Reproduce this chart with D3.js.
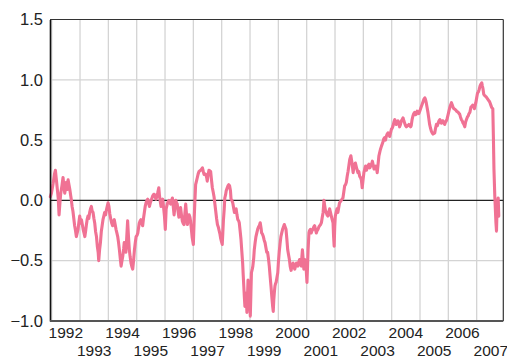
<!DOCTYPE html>
<html>
<head>
<meta charset="utf-8">
<script src="https://cdn.jsdelivr.net/npm/d3@7"></script>
<style>
  html, body { margin: 0; padding: 0; background: #fff; }
  svg { display: block; }
  .ylab { font-family: "Liberation Sans", Arial, sans-serif; font-size: 16.5px; fill: #222; }
  .xlab { font-family: "Liberation Sans", Arial, sans-serif; font-size: 15.5px; fill: #222; }
</style>
</head>
<body>
<svg id="chart" width="507" height="358"></svg>
<script>
// Axis settings
const yTicks = [-1.0, -0.5, 0.0, 0.5, 1.0, 1.5];
const yearTicks = d3.range(1992, 2008);
const xDomain = [1991.94, 2007.94];
const yDomain = [-1.0, 1.5];

// Series: [decimal year, value]
const series = [
  [1991.95,0.03],[1991.99,0.06],[1992.05,0.14],[1992.10,0.22],[1992.13,0.25],[1992.17,0.16],[1992.20,0.09],[1992.23,0.02],[1992.26,-0.12],[1992.29,-0.02],[1992.32,0.06],[1992.36,0.12],[1992.40,0.19],[1992.43,0.12],[1992.46,0.06],[1992.49,0.10],[1992.52,0.15],[1992.55,0.09],[1992.58,0.17],[1992.61,0.13],[1992.64,0.09],[1992.67,0.04],[1992.69,0.01],[1992.72,-0.05],[1992.75,-0.09],[1992.78,-0.15],[1992.81,-0.21],[1992.84,-0.25],[1992.87,-0.30],[1992.90,-0.27],[1992.93,-0.24],[1992.96,-0.18],[1992.99,-0.13],
  [1993.02,-0.19],[1993.05,-0.16],[1993.08,-0.20],[1993.11,-0.24],[1993.14,-0.27],[1993.17,-0.30],[1993.20,-0.25],[1993.22,-0.21],[1993.25,-0.16],[1993.28,-0.13],[1993.31,-0.15],[1993.34,-0.10],[1993.37,-0.07],[1993.40,-0.05],[1993.43,-0.09],[1993.46,-0.10],[1993.49,-0.15],[1993.52,-0.19],[1993.55,-0.26],[1993.58,-0.30],[1993.61,-0.38],[1993.64,-0.43],[1993.66,-0.50],[1993.69,-0.41],[1993.72,-0.35],[1993.75,-0.26],[1993.78,-0.21],[1993.81,-0.16],[1993.84,-0.13],[1993.87,-0.10],[1993.90,-0.12],[1993.93,-0.08],[1993.96,-0.05],[1993.99,-0.02],
  [1994.02,-0.05],[1994.05,-0.11],[1994.09,-0.16],[1994.12,-0.19],[1994.15,-0.21],[1994.18,-0.18],[1994.21,-0.16],[1994.24,-0.20],[1994.27,-0.24],[1994.30,-0.27],[1994.33,-0.30],[1994.36,-0.35],[1994.39,-0.41],[1994.42,-0.48],[1994.45,-0.545],[1994.48,-0.50],[1994.51,-0.46],[1994.54,-0.40],[1994.56,-0.35],[1994.59,-0.39],[1994.62,-0.43],[1994.65,-0.30],[1994.68,-0.17],[1994.71,-0.30],[1994.74,-0.41],[1994.77,-0.47],[1994.80,-0.52],[1994.83,-0.55],[1994.86,-0.57],[1994.89,-0.50],[1994.92,-0.41],[1994.95,-0.35],[1994.98,-0.30],
  [1995.01,-0.29],[1995.04,-0.27],[1995.07,-0.22],[1995.09,-0.19],[1995.12,-0.17],[1995.15,-0.16],[1995.18,-0.19],[1995.21,-0.21],[1995.24,-0.15],[1995.27,-0.10],[1995.30,-0.05],[1995.33,-0.02],[1995.36,0.00],[1995.39,0.01],[1995.42,-0.02],[1995.45,-0.05],[1995.48,-0.02],[1995.51,0.00],[1995.54,0.02],[1995.57,0.04],[1995.60,0.05],[1995.62,0.05],[1995.65,0.03],[1995.68,0.01],[1995.71,0.03],[1995.74,0.06],[1995.78,0.105],[1995.80,0.05],[1995.82,0.01],[1995.86,-0.05],[1995.89,-0.02],[1995.92,0.01],[1995.95,-0.06],[1995.98,-0.13],
  [1996.01,-0.24],[1996.04,-0.07],[1996.08,-0.03],[1996.11,-0.01],[1996.14,0.00],[1996.17,-0.02],[1996.20,-0.03],[1996.23,0.00],[1996.26,0.02],[1996.29,-0.05],[1996.32,-0.12],[1996.35,-0.05],[1996.38,0.00],[1996.41,-0.02],[1996.43,-0.03],[1996.46,-0.09],[1996.49,-0.14],[1996.52,-0.10],[1996.55,-0.06],[1996.58,-0.12],[1996.61,-0.17],[1996.64,-0.19],[1996.67,-0.20],[1996.70,-0.11],[1996.73,-0.03],[1996.76,-0.12],[1996.79,-0.20],[1996.82,-0.16],[1996.85,-0.12],[1996.88,-0.14],[1996.90,-0.17],[1996.93,-0.24],[1996.96,-0.31],
  [1997.00,-0.365],[1997.03,-0.15],[1997.05,-0.03],[1997.08,0.13],[1997.11,0.16],[1997.14,0.19],[1997.17,0.22],[1997.20,0.24],[1997.23,0.245],[1997.26,0.25],[1997.29,0.26],[1997.32,0.27],[1997.35,0.24],[1997.38,0.215],[1997.41,0.22],[1997.44,0.215],[1997.47,0.19],[1997.49,0.16],[1997.52,0.21],[1997.55,0.25],[1997.58,0.245],[1997.61,0.24],[1997.64,0.17],[1997.67,0.105],[1997.70,0.07],[1997.73,0.03],[1997.76,-0.03],[1997.79,-0.09],[1997.82,-0.15],[1997.85,-0.20],[1997.88,-0.22],[1997.91,-0.25],[1997.94,-0.28],[1997.96,-0.31],[1997.99,-0.34],
  [1998.02,-0.365],[1998.04,-0.27],[1998.06,-0.17],[1998.09,-0.07],[1998.11,0.02],[1998.14,0.05],[1998.16,0.08],[1998.19,0.10],[1998.22,0.12],[1998.25,0.13],[1998.28,0.12],[1998.31,0.08],[1998.33,0.01],[1998.36,0.00],[1998.39,-0.02],[1998.42,-0.06],[1998.45,-0.10],[1998.48,-0.08],[1998.51,-0.07],[1998.54,-0.12],[1998.57,-0.16],[1998.60,-0.17],[1998.62,-0.185],[1998.65,-0.25],[1998.68,-0.32],[1998.71,-0.42],[1998.74,-0.52],[1998.76,-0.62],[1998.78,-0.71],[1998.80,-0.80],[1998.82,-0.88],[1998.84,-0.82],[1998.86,-0.77],[1998.88,-0.86],[1998.89,-0.93],[1998.91,-0.80],[1998.93,-0.66],[1998.96,-0.75],[1998.98,-0.82],
  [1999.00,-0.90],[1999.01,-0.96],[1999.03,-0.78],[1999.05,-0.60],[1999.08,-0.57],[1999.10,-0.545],[1999.13,-0.48],[1999.15,-0.41],[1999.18,-0.35],[1999.21,-0.30],[1999.24,-0.27],[1999.27,-0.24],[1999.30,-0.22],[1999.33,-0.21],[1999.36,-0.185],[1999.39,-0.23],[1999.41,-0.27],[1999.44,-0.28],[1999.47,-0.30],[1999.50,-0.33],[1999.53,-0.35],[1999.56,-0.39],[1999.59,-0.43],[1999.62,-0.43],[1999.65,-0.48],[1999.68,-0.545],[1999.71,-0.63],[1999.74,-0.71],[1999.77,-0.80],[1999.80,-0.88],[1999.82,-0.92],[1999.84,-0.82],[1999.86,-0.76],[1999.88,-0.71],[1999.90,-0.69],[1999.92,-0.68],[1999.95,-0.64],[1999.98,-0.60],
  [2000.00,-0.52],[2000.03,-0.43],[2000.06,-0.36],[2000.09,-0.30],[2000.12,-0.27],[2000.15,-0.24],[2000.18,-0.22],[2000.21,-0.20],[2000.24,-0.22],[2000.27,-0.24],[2000.30,-0.32],[2000.33,-0.41],[2000.36,-0.45],[2000.39,-0.49],[2000.42,-0.55],[2000.45,-0.58],[2000.49,-0.53],[2000.52,-0.52],[2000.55,-0.55],[2000.58,-0.57],[2000.61,-0.54],[2000.64,-0.52],[2000.67,-0.53],[2000.69,-0.545],[2000.72,-0.51],[2000.75,-0.49],[2000.78,-0.52],[2000.81,-0.545],[2000.83,-0.47],[2000.85,-0.41],[2000.88,-0.50],[2000.90,-0.57],[2000.93,-0.49],[2000.97,-0.52],[2000.99,-0.60],
  [2001.01,-0.68],[2001.03,-0.55],[2001.05,-0.41],[2001.08,-0.27],[2001.10,-0.25],[2001.13,-0.24],[2001.16,-0.27],[2001.19,-0.25],[2001.22,-0.24],[2001.25,-0.22],[2001.28,-0.21],[2001.31,-0.24],[2001.34,-0.27],[2001.37,-0.25],[2001.40,-0.24],[2001.43,-0.22],[2001.46,-0.21],[2001.49,-0.20],[2001.52,-0.185],[2001.55,-0.14],[2001.58,-0.10],[2001.61,0.00],[2001.64,-0.05],[2001.66,-0.08],[2001.69,-0.10],[2001.72,-0.12],[2001.75,-0.13],[2001.78,-0.10],[2001.81,-0.07],[2001.84,-0.10],[2001.87,-0.13],[2001.90,-0.16],[2001.93,-0.185],[2001.95,-0.30],[2001.97,-0.38],[2001.99,-0.22],
  [2002.01,-0.13],[2002.04,-0.10],[2002.07,-0.07],[2002.10,-0.10],[2002.13,-0.06],[2002.16,-0.02],[2002.19,-0.01],[2002.22,0.00],[2002.25,0.01],[2002.28,0.02],[2002.31,0.07],[2002.34,0.12],[2002.37,0.13],[2002.40,0.15],[2002.43,0.20],[2002.46,0.24],[2002.49,0.29],[2002.52,0.34],[2002.56,0.37],[2002.58,0.34],[2002.60,0.31],[2002.64,0.23],[2002.67,0.285],[2002.72,0.31],[2002.77,0.26],[2002.81,0.23],[2002.84,0.24],[2002.87,0.20],[2002.90,0.19],[2002.93,0.17],[2002.96,0.105],[2002.99,0.17],
  [2003.02,0.23],[2003.05,0.26],[2003.08,0.285],[2003.11,0.25],[2003.14,0.27],[2003.17,0.29],[2003.20,0.30],[2003.23,0.27],[2003.26,0.285],[2003.29,0.30],[2003.32,0.325],[2003.35,0.29],[2003.38,0.26],[2003.41,0.27],[2003.44,0.285],[2003.47,0.26],[2003.49,0.23],[2003.52,0.30],[2003.55,0.37],[2003.58,0.40],[2003.60,0.42],[2003.64,0.45],[2003.67,0.47],[2003.70,0.49],[2003.72,0.51],[2003.75,0.52],[2003.78,0.50],[2003.81,0.53],[2003.84,0.55],[2003.87,0.56],[2003.90,0.55],[2003.93,0.53],[2003.96,0.56],[2003.99,0.59],
  [2004.02,0.60],[2004.05,0.62],[2004.08,0.65],[2004.11,0.67],[2004.14,0.65],[2004.16,0.63],[2004.19,0.65],[2004.22,0.66],[2004.25,0.64],[2004.28,0.61],[2004.31,0.63],[2004.34,0.66],[2004.37,0.67],[2004.40,0.685],[2004.43,0.66],[2004.46,0.64],[2004.49,0.62],[2004.52,0.61],[2004.55,0.62],[2004.58,0.62],[2004.61,0.63],[2004.64,0.62],[2004.67,0.61],[2004.69,0.62],[2004.72,0.67],[2004.75,0.70],[2004.78,0.72],[2004.81,0.73],[2004.84,0.71],[2004.87,0.715],[2004.90,0.74],[2004.93,0.73],[2004.96,0.72],[2004.99,0.74],
  [2005.02,0.76],[2005.05,0.78],[2005.08,0.80],[2005.11,0.82],[2005.14,0.84],[2005.17,0.85],[2005.19,0.84],[2005.22,0.81],[2005.25,0.77],[2005.28,0.73],[2005.31,0.68],[2005.34,0.63],[2005.37,0.60],[2005.40,0.575],[2005.43,0.56],[2005.46,0.55],[2005.49,0.555],[2005.52,0.56],[2005.55,0.60],[2005.58,0.63],[2005.61,0.62],[2005.64,0.64],[2005.67,0.66],[2005.70,0.67],[2005.72,0.65],[2005.75,0.64],[2005.78,0.66],[2005.81,0.66],[2005.84,0.64],[2005.87,0.63],[2005.90,0.65],[2005.93,0.66],[2005.96,0.68],[2005.99,0.71],
  [2006.02,0.74],[2006.05,0.77],[2006.08,0.79],[2006.11,0.81],[2006.14,0.79],[2006.17,0.77],[2006.20,0.76],[2006.23,0.755],[2006.26,0.75],[2006.29,0.74],[2006.32,0.735],[2006.35,0.73],[2006.38,0.72],[2006.40,0.715],[2006.43,0.69],[2006.46,0.67],[2006.49,0.66],[2006.52,0.64],[2006.55,0.63],[2006.58,0.61],[2006.61,0.65],[2006.64,0.67],[2006.67,0.69],[2006.70,0.70],[2006.73,0.72],[2006.76,0.73],[2006.80,0.775],[2006.83,0.78],[2006.86,0.79],[2006.89,0.78],[2006.92,0.76],[2006.95,0.79],[2006.97,0.81],
  [2007.00,0.85],[2007.03,0.89],[2007.06,0.90],[2007.09,0.92],[2007.12,0.95],[2007.14,0.96],[2007.18,0.975],[2007.20,0.95],[2007.22,0.93],[2007.25,0.88],[2007.28,0.87],[2007.30,0.865],[2007.33,0.86],[2007.36,0.85],[2007.39,0.84],[2007.42,0.83],[2007.45,0.82],[2007.47,0.81],[2007.50,0.79],[2007.53,0.77],[2007.57,0.76],[2007.59,0.53],[2007.61,0.26],[2007.64,0.035],[2007.66,-0.075],[2007.68,-0.185],[2007.70,-0.255],[2007.72,-0.07],[2007.74,-0.02],[2007.76,0.02],[2007.78,-0.13]
];

const lineColor = "#f07294";

const svg = d3.select("#chart");
const margin = { left: 50, top: 19.5, right: 3.7, bottom: 37 };
const W = 507, H = 358;
const x = d3.scaleLinear().domain(xDomain).range([margin.left, W - margin.right]);
const y = d3.scaleLinear().domain(yDomain).range([H - margin.bottom, margin.top]);

// Grid
const grid = svg.append("g");
grid.selectAll("line.v").data(yearTicks).join("line")
  .attr("x1", d => x(d)).attr("x2", d => x(d))
  .attr("y1", y(yDomain[1])).attr("y2", y(yDomain[0]))
  .attr("stroke", "#d4d4d4").attr("stroke-width", 1.3);
grid.selectAll("line.h").data(yTicks.filter(t => t !== 0 && t !== yDomain[0] && t !== yDomain[1])).join("line")
  .attr("x1", x(xDomain[0])).attr("x2", x(xDomain[1]))
  .attr("y1", d => y(d)).attr("y2", d => y(d))
  .attr("stroke", "#d4d4d4").attr("stroke-width", 1.3);

// Zero line
svg.append("line")
  .attr("x1", x(xDomain[0])).attr("x2", x(xDomain[1]))
  .attr("y1", y(0)).attr("y2", y(0))
  .attr("stroke", "#222").attr("stroke-width", 1.1);

// Series line
const line = d3.line().x(d => x(d[0])).y(d => y(d[1]));
svg.append("path")
  .datum(series)
  .attr("d", line)
  .attr("fill", "none")
  .attr("stroke", lineColor)
  .attr("stroke-width", 3.1)
  .attr("stroke-linejoin", "round")
  .attr("stroke-linecap", "round");

// Frame
svg.append("line").attr("x1", x(xDomain[0])).attr("x2", x(xDomain[1]))
  .attr("y1", y(yDomain[1])).attr("y2", y(yDomain[1])).attr("stroke", "#333").attr("stroke-width", 1.2);
svg.append("line").attr("x1", x(xDomain[1])).attr("x2", x(xDomain[1]))
  .attr("y1", y(yDomain[1])).attr("y2", y(yDomain[0])).attr("stroke", "#333").attr("stroke-width", 1.2);

// Y axis
const yAxis = d3.axisLeft(y).tickValues(yTicks).tickFormat(d3.format(".1f")).tickSize(0).tickPadding(7);
const gy = svg.append("g").attr("transform", `translate(${x(xDomain[0])},0)`).call(yAxis);
gy.select(".domain").attr("stroke", "#111").attr("stroke-width", 1.6);
gy.selectAll("text").attr("class", "ylab").attr("font-family", null).attr("font-size", null).attr("fill", null);

// X axis: labels centred within each year, alternating rows
const gx = svg.append("g");
gx.append("line")
  .attr("x1", x(xDomain[0])).attr("x2", x(xDomain[1]))
  .attr("y1", y(yDomain[0])).attr("y2", y(yDomain[0]))
  .attr("stroke", "#555").attr("stroke-width", 2);
gx.selectAll("text").data(yearTicks).join("text")
  .attr("class", "xlab")
  .attr("x", d => x(d + 0.5))
  .attr("y", (d, i) => i % 2 === 0 ? 338 : 356)
  .attr("text-anchor", "middle")
  .text(d => d);
</script>
</body>
</html>
